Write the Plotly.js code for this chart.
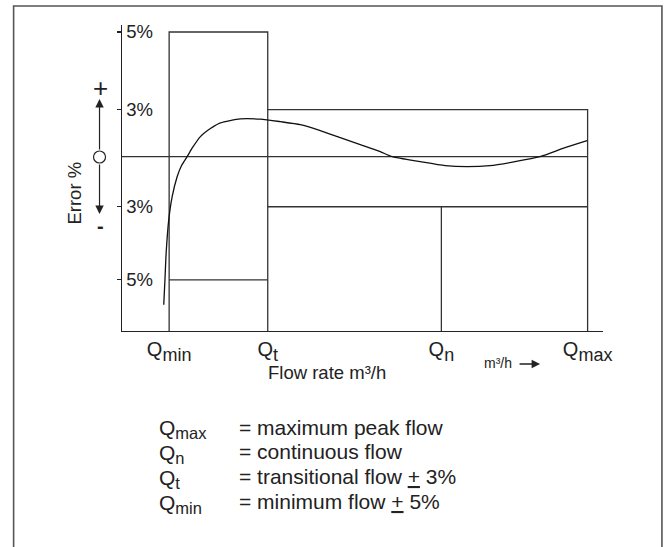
<!DOCTYPE html>
<html><head><meta charset="utf-8">
<script src="https://cdn.plot.ly/plotly-3.0.1.min.js"></script>
<style>html,body{margin:0;padding:0;background:#fff}#chart{width:669px;height:547px}</style>
</head><body><div id="chart"></div>
<script>
// ---- data ----
const flowMarkerNames = ['min', 't', 'n', 'max'];
const flowMarkers = [9.8, 30.3, 66.4, 96.8];      // Qmin, Qt, Qn, Qmax (relative flow units)
const flowAxisMax = 100;
const limitLowRange = 5;      // ± % between Qmin and Qt
const limitHighRange = 3;     // ± % between Qt and Qmax
const curveFlow  = [8.68, 8.93, 9.18, 9.72, 10.43, 11.46, 12.36, 13.54, 14.64, 16.3, 18.38, 20.46, 24.61, 28.76, 32.92, 37.07, 41.23, 45.38, 49.53, 53.69, 56.18, 62.0, 67.2, 71.75, 76.5, 81.7, 86.9, 92.1, 96.7];
const curveError = [-5.68, -5.0, -4.26, -3.36, -2.40, -1.20, -0.54, 0, 0.57, 1.28, 1.79, 2.15, 2.41, 2.39, 2.23, 2.04, 1.66, 1.21, 0.77, 0.32, 0, -0.3, -0.54, -0.6, -0.54, -0.3, 0, 0.57, 1.02];
const yTickValues = [5, 3, -3, -5];
const yTickLabels = ['5%', '3%', '3%', '5%'];
const legendSymbols = ['max', 'n', 't', 'min'];
const legendTexts = ['= maximum peak flow', '= continuous flow', '= transitional flow <u>+</u> 3%', '= minimum flow <u>+</u> 5%'];

// ---- schematic (not to scale) error axis ----
const errLevels = [-5, -3, 0, 3, 5];
const errLevelPos = [51, 124, 174, 221, 298.5];
const errAxisRange = [-6.4, 5.18];
function errScale(v) {
  let i = 0;
  if (v <= errLevels[1]) i = 0;
  else if (v >= errLevels[errLevels.length - 2]) i = errLevels.length - 2;
  else { while (v > errLevels[i + 1]) i++; }
  const t = (v - errLevels[i]) / (errLevels[i + 1] - errLevels[i]);
  return errLevelPos[i] + t * (errLevelPos[i + 1] - errLevelPos[i]);
}

// ---- layout helpers ----
const W = 669, H = 547, L = 121.5, R = 603, T = 25, B = 331;
const fx = p => (p - L) / (R - L);
const fy = p => (B - p) / (B - T);
const FONT = 'Liberation Sans, Arial, Helvetica, sans-serif';
const INK = '#222';
const LINE = '#333';
const qLabel = (s, sz) => 'Q<sub><span style="font-size:' + sz + 'px">' + s + '</span></sub>';

const [qMin, qT, qN, qMax] = flowMarkers;
const yb = errAxisRange[0];
function seg(xs, ys, w, c) {
  return { x: xs, y: ys.map(errScale), type: 'scatter', mode: 'lines',
           line: { color: c || LINE, width: w || 1.3 }, hoverinfo: 'skip', showlegend: false };
}
const traces = [
  seg([qMin, qMin, qT, qT, qMax, qMax], [yb, limitLowRange, limitLowRange, limitHighRange, limitHighRange, yb]),
  seg([qT, qT], [limitHighRange, yb]),
  seg([qMin, qT], [-limitLowRange, -limitLowRange]),
  seg([qT, qMax], [-limitHighRange, -limitHighRange]),
  seg([qN, qN], [-limitHighRange, yb]),
  seg([0, qMax], [0, 0]),
  { x: curveFlow, y: curveError.map(errScale), type: 'scatter', mode: 'lines',
    line: { color: '#111', width: 1.3, shape: 'spline', smoothing: 0.6 }, hoverinfo: 'skip', showlegend: false }
];

const ann = [];
// left-side sign indicators
ann.push({ xref: 'paper', yref: 'paper', x: fx(99.5), y: fy(88), text: '+', showarrow: false,
  font: { family: FONT, size: 26, color: INK }, xanchor: 'center', yanchor: 'middle' });
ann.push({ xref: 'paper', yref: 'paper', x: fx(99.5), y: fy(226), text: '<b>-</b>', showarrow: false,
  font: { family: FONT, size: 20, color: INK }, xanchor: 'center', yanchor: 'middle' });
ann.push({ xref: 'paper', yref: 'paper', x: fx(99), y: fy(99), ax: 0, ay: 52, text: '', showarrow: true,
  arrowhead: 2, arrowsize: 1.4, arrowwidth: 1.2, arrowcolor: INK, standoff: 0, startstandoff: 0 });
ann.push({ xref: 'paper', yref: 'paper', x: fx(99), y: fy(214), ax: 0, ay: -51, text: '', showarrow: true,
  arrowhead: 2, arrowsize: 1.4, arrowwidth: 1.2, arrowcolor: INK, standoff: 0, startstandoff: 0 });
ann.push({ xref: 'paper', yref: 'paper', x: fx(73), y: fy(193), text: 'Error %', textangle: -90, showarrow: false,
  font: { family: FONT, size: 18.5, color: INK }, xanchor: 'center', yanchor: 'middle' });
// axis title and unit arrow
ann.push({ xref: 'paper', yref: 'paper', x: fx(327), y: fy(372), text: 'Flow rate m³/h', showarrow: false,
  font: { family: FONT, size: 18.5, color: INK }, xanchor: 'center', yanchor: 'middle' });
ann.push({ xref: 'paper', yref: 'paper', x: fx(482), y: fy(363), text: 'm³/h', showarrow: false,
  font: { family: FONT, size: 14, color: INK }, xanchor: 'left', yanchor: 'middle' });
ann.push({ xref: 'paper', yref: 'paper', x: fx(540), y: fy(364), ax: -22, ay: 0, text: '', showarrow: true,
  arrowhead: 2, arrowsize: 1.3, arrowwidth: 1.3, arrowcolor: INK, standoff: 0, startstandoff: 0 });
// definitions
const rowCenters = [427, 451.5, 476.5, 501.5];
legendSymbols.forEach((s, i) => {
  ann.push({ xref: 'paper', yref: 'paper', x: fx(157), y: fy(rowCenters[i] + 2), text: qLabel(s, 16.5), showarrow: false,
    font: { family: FONT, size: 21, color: INK }, xanchor: 'left', yanchor: 'middle' });
  ann.push({ xref: 'paper', yref: 'paper', x: fx(237), y: fy(rowCenters[i]), text: legendTexts[i], showarrow: false,
    font: { family: FONT, size: 21, color: INK }, xanchor: 'left', yanchor: 'middle' });
});

const layout = {
  width: W, height: H,
  margin: { l: L, r: W - R, t: T, b: H - B, pad: 0 },
  paper_bgcolor: '#fff', plot_bgcolor: '#fff',
  showlegend: false,
  font: { family: FONT, color: INK },
  xaxis: {
    range: [0, flowAxisMax], showgrid: false, zeroline: false,
    showline: true, linecolor: INK, linewidth: 1.4,
    tickmode: 'array', tickvals: flowMarkers, ticktext: flowMarkerNames.map(s => qLabel(s, 18)),
    ticks: '', tickfont: { family: FONT, size: 20, color: INK }, fixedrange: true
  },
  yaxis: {
    range: errAxisRange.map(errScale), showgrid: false, zeroline: false,
    showline: true, linecolor: INK, linewidth: 1.4,
    tickmode: 'array', tickvals: yTickValues.map(errScale), ticktext: yTickLabels,
    ticks: 'outside', ticklen: 4, tickwidth: 1.2, tickcolor: INK,
    ticklabelposition: 'inside', ticklabeloverflow: 'allow', ticklabelstandoff: 5,
    tickfont: { family: FONT, size: 18.5, color: INK }, fixedrange: true
  },
  shapes: [
    { type: 'rect', xref: 'paper', yref: 'paper', x0: fx(13), x1: fx(662), y0: fy(560), y1: fy(6),
      line: { color: '#555', width: 1.6 }, fillcolor: 'rgba(0,0,0,0)' },
    { type: 'circle', xref: 'paper', yref: 'paper', xsizemode: 'pixel', ysizemode: 'pixel',
      xanchor: fx(99), yanchor: fy(157), x0: -6, x1: 6, y0: -6, y1: 6,
      line: { color: INK, width: 1.2 }, fillcolor: 'rgba(0,0,0,0)' }
  ],
  annotations: ann
};
Plotly.newPlot('chart', traces, layout, { staticPlot: true, displayModeBar: false });
</script></body></html>
